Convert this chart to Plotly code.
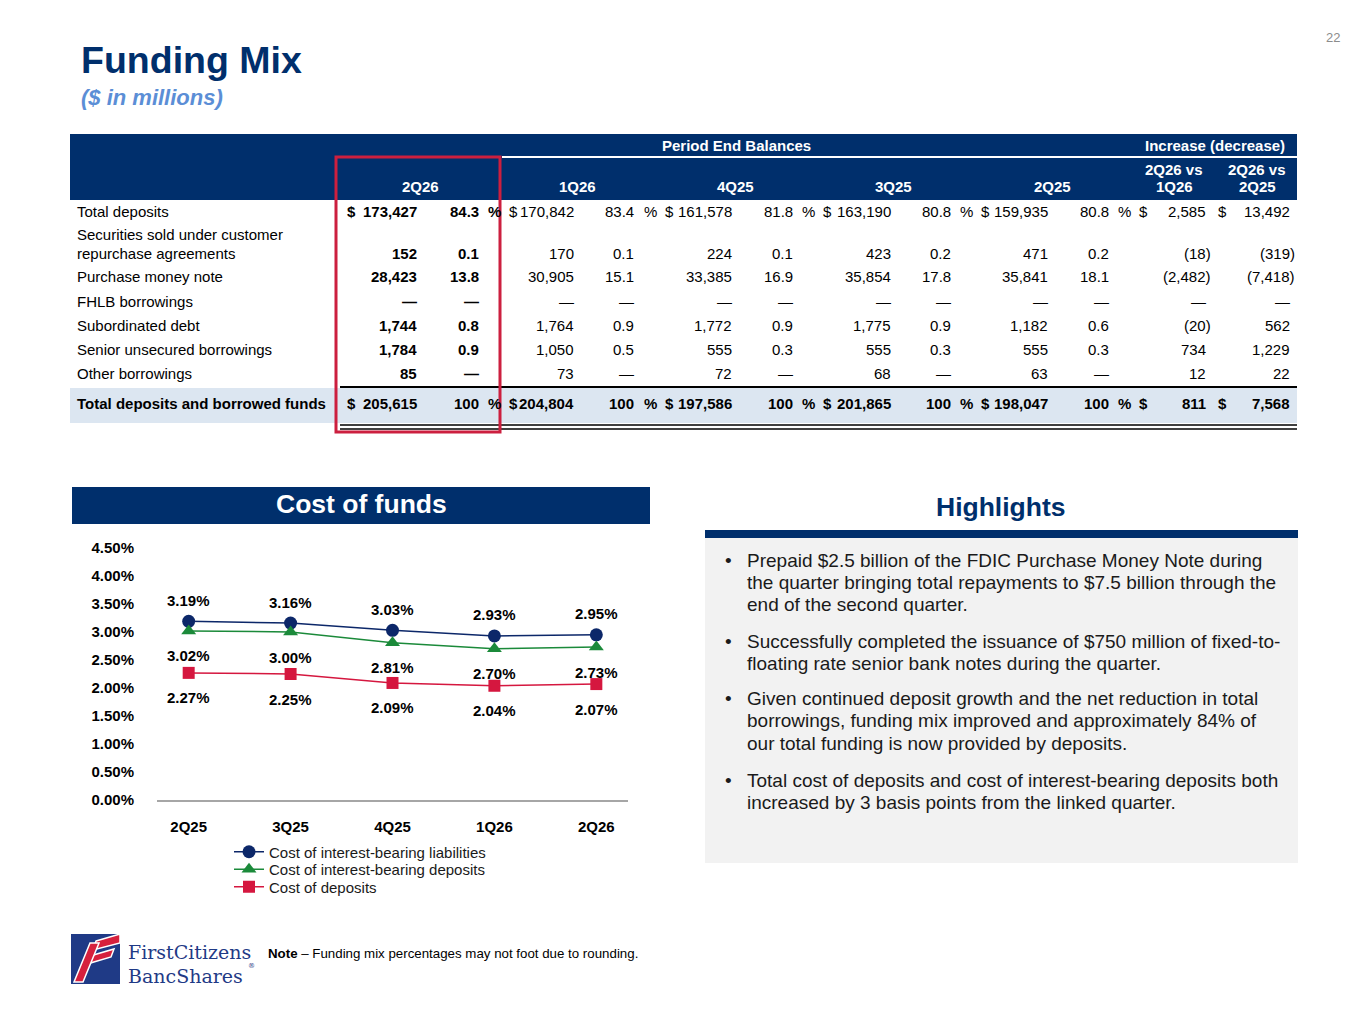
import plotly.graph_objects as go

# page is drawn with the browser's 8px body margin, so the figure is a bit
# smaller than the window and all positions are measured in window pixels
OFF = 8
W, H = 1365 - 2 * OFF, 1024 - 2 * OFF
SANS = "Liberation Sans, Arial, Helvetica, sans-serif"
SERIF = "DejaVu Serif, Liberation Serif, serif"
NAVY = "#002F6C"

# Table data ($ in millions)
row_labels = [
    "Total deposits",
    "Securities sold under customer<br>repurchase agreements",
    "Purchase money note",
    "FHLB borrowings",
    "Subordinated debt",
    "Senior unsecured borrowings",
    "Other borrowings",
    "Total deposits and borrowed funds",
]
periods = ["2Q26", "1Q26", "4Q25", "3Q25", "2Q25"]
bal_2q26 = [173427, 152, 28423, None, 1744, 1784, 85, 205615]
pct_2q26 = [84.3, 0.1, 13.8, None, 0.8, 0.9, None, 100]
bal_1q26 = [170842, 170, 30905, None, 1764, 1050, 73, 204804]
pct_1q26 = [83.4, 0.1, 15.1, None, 0.9, 0.5, None, 100]
bal_4q25 = [161578, 224, 33385, None, 1772, 555, 72, 197586]
pct_4q25 = [81.8, 0.1, 16.9, None, 0.9, 0.3, None, 100]
bal_3q25 = [163190, 423, 35854, None, 1775, 555, 68, 201865]
pct_3q25 = [80.8, 0.2, 17.8, None, 0.9, 0.3, None, 100]
bal_2q25 = [159935, 471, 35841, None, 1182, 555, 63, 198047]
pct_2q25 = [80.8, 0.2, 18.1, None, 0.6, 0.3, None, 100]
chg_vs_1q26 = [2585, -18, -2482, None, -20, 734, 12, 811]
chg_vs_2q25 = [13492, -319, -7418, None, 562, 1229, 22, 7568]
change_headers = ["2Q26 vs<br>1Q26", "2Q26 vs<br>2Q25"]

# Cost of funds chart data (%)
quarters = ["2Q25", "3Q25", "4Q25", "1Q26", "2Q26"]
cost_ib_liabilities = [3.19, 3.16, 3.03, 2.93, 2.95]
cost_ib_deposits = [3.02, 3.00, 2.81, 2.70, 2.73]
cost_deposits = [2.27, 2.25, 2.09, 2.04, 2.07]
y_ticks = [0, 0.5, 1, 1.5, 2, 2.5, 3, 3.5, 4, 4.5]

highlights = [
    ["Prepaid $2.5 billion of the FDIC Purchase Money Note during",
     "the quarter bringing total repayments to $7.5 billion through the",
     "end of the second quarter."],
    ["Successfully completed the issuance of $750 million of fixed-to-",
     "floating rate senior bank notes during the quarter."],
    ["Given continued deposit growth and the net reduction in total",
     "borrowings, funding mix improved and approximately 84% of",
     "our total funding is now provided by deposits."],
    ["Total cost of deposits and cost of interest-bearing deposits both",
     "increased by 3 basis points from the linked quarter."],
]


def px(x):
    return (x - OFF) / W


def py(y):
    return 1 - (y - OFF) / H


annotations = []
shapes = []


def text(x, y, s, size=15, color="#000000", bold=False, anchor="left", family=SANS,
         italic=False, vanchor="middle"):
    if bold:
        s = "<b>" + s + "</b>"
    if italic:
        s = "<i>" + s + "</i>"
    annotations.append(dict(x=px(x), y=py(y), xref="paper", yref="paper", text=s,
                            showarrow=False, xanchor=anchor, yanchor=vanchor,
                            font=dict(size=size, color=color, family=family)))


def rect(x0, y0, x1, y1, fill):
    shapes.append(dict(type="rect", xref="paper", yref="paper", x0=px(x0), x1=px(x1),
                       y0=py(y0), y1=py(y1), fillcolor=fill, layer="below",
                       line=dict(color=fill, width=0)))


def hline(x0, x1, y, color, width):
    shapes.append(dict(type="line", xref="paper", yref="paper", x0=px(x0), x1=px(x1),
                       y0=py(y), y1=py(y), line=dict(color=color, width=width)))


def poly(points, fill, line="white", width=1):
    d = "M " + " L ".join(f"{px(a):.5f},{py(b):.5f}" for a, b in points) + " Z"
    shapes.append(dict(type="path", xref="paper", yref="paper", path=d,
                       fillcolor=fill, line=dict(color=line, width=width)))


def fmt_amt(v):
    return "\u2014" if v is None else f"{v:,}"


def fmt_pct(v):
    if v is None:
        return "\u2014"
    return "100" if v == 100 else f"{v:.1f}"


def fmt_chg(v):
    if v is None:
        return "\u2014"
    return f"({-v:,})" if v < 0 else f"{v:,}"


# ---- title
text(79, 60, "Funding Mix", size=37.5, color=NAVY, bold=True)
text(79, 97, "($ in millions)", size=22, color="#5B8ED6", bold=True, italic=True)
text(1342, 37, "22", size=13, color="#8C8C8C", anchor="right")

# ---- table
rect(70, 134, 1297, 200, NAVY)
hline(502, 1297, 157, "white", 2)
text(737, 146, "Period End Balances", color="white", bold=True, anchor="center")
text(1287, 146, "Increase (decrease)", color="white", bold=True, anchor="right")

row_y = [212, 253, 277, 301, 325, 349, 373, 404]
last = len(row_labels) - 1
rect(70, 388, 1297, 423, "#DCE6F1")
hline(340, 1297, 387, "#000000", 2)
hline(340, 1297, 425, "#000000", 1.5)
hline(340, 1297, 429, "#000000", 1.5)

for i, lab in enumerate(row_labels):
    lines = lab.split("<br>")
    for k, ln in enumerate(lines):
        text(75, row_y[i] - 18 * (len(lines) - 1 - k), ln, bold=(i == last))

balances = [bal_2q26, bal_1q26, bal_4q25, bal_3q25, bal_2q25]
pcts = [pct_2q26, pct_1q26, pct_4q25, pct_3q25, pct_2q25]
# column geometry: header centre, $ left, amount right, pct right, % sign left
col_geo = [
    (420, 345, 419, 481, 486),
    (577, 507, 576, 636, 642),
    (735, 663, 734, 795, 800),
    (893, 821, 893, 953, 958),
    (1052, 979, 1050, 1111, 1116),
]
for c, per in enumerate(periods):
    hx, dx, ax, pxr, sx = col_geo[c]
    text(hx, 186, per, color="white", bold=True, anchor="center")
    for i in range(len(row_labels)):
        b = (c == 0) or (i == last)
        if i in (0, last):
            text(dx, row_y[i], "$", bold=b)
            text(sx, row_y[i], "%", bold=b)
        text(ax, row_y[i], fmt_amt(balances[c][i]), bold=b, anchor="right")
        text(pxr, row_y[i], fmt_pct(pcts[c][i]), bold=b, anchor="right")

changes = [chg_vs_1q26, chg_vs_2q25]
chg_geo = [(1174, 1137, 1208), (1257, 1216, 1292)]
for c, hdr in enumerate(change_headers):
    hx, dx, ax = chg_geo[c]
    h1, h2 = hdr.split("<br>")
    text(hx, 169, h1, color="white", bold=True, anchor="center")
    text(hx, 186, h2, color="white", bold=True, anchor="center")
    for i in range(len(row_labels)):
        b = (i == last)
        if i in (0, last):
            text(dx, row_y[i], "$", bold=b)
        s = fmt_chg(changes[c][i])
        text(ax + (5 if s.startswith("(") else 0), row_y[i], s, bold=b, anchor="right")

# red highlight box around current quarter
shapes.append(dict(type="rect", xref="paper", yref="paper", x0=px(336), x1=px(500),
                   y0=py(157), y1=py(432), line=dict(color="#CC1F3F", width=3)))

# ---- cost of funds panel
rect(72, 487, 650, 524, NAVY)
text(361, 504, "Cost of funds", size=26.5, color="white", bold=True, anchor="center")

# ---- highlights panel
text(1001, 507, "Highlights", size=26.5, color=NAVY, bold=True, anchor="center")
rect(705, 530, 1298, 538, NAVY)
rect(705, 538, 1298, 863, "#F2F2F2")
line_y = [[560, 582, 604], [641, 663], [698, 720, 743], [780, 802]]
for k, para in enumerate(highlights):
    text(723, line_y[k][0], "\u2022", size=19, color="#1A1A1A")
    for j, ln in enumerate(para):
        text(745, line_y[k][j], ln, size=19, color="#1A1A1A")

# ---- footer
text(266, 953, "<b>Note</b> \u2013 Funding mix percentages may not foot due to rounding.", size=13.3)
rect(71, 934, 120, 984, "#1F3A86")
poly([(96, 941), (120, 934), (120, 943), (93, 950)], "#D6203D", width=1.5)
poly([(90, 956), (114, 949), (111, 957), (87, 964)], "#D6203D", width=1.5)
poly([(74, 982), (83, 982), (99, 943), (90, 943)], "#D6203D", width=1.5)
text(126, 965, "FirstCitizens", size=19, color="#1F3A86", family=SERIF, vanchor="bottom")
text(126, 963, "BancShares", size=19, color="#1F3A86", family=SERIF, vanchor="top")
text(246, 966, "\u00ae", size=7, color="#1F3A86", family=SERIF)

fig = go.Figure()
# one small legend per series so the rows sit as tightly as on the slide
series = [
    ("Cost of interest-bearing liabilities", cost_ib_liabilities, "#0C2769", "circle", 13, 21, "legend", 852),
    ("Cost of interest-bearing deposits", cost_ib_deposits, "#1B8A3A", "triangle-up", 13, -25, "legend2", 869.5),
    ("Cost of deposits", cost_deposits, "#D5173F", "square", 12, -25, "legend3", 887),
]
legends = {}
for name, vals, col, sym, size, shift, leg, ly in series:
    fig.add_trace(go.Scatter(x=quarters, y=vals, name=name, mode="lines+markers",
                             legend=leg,
                             line=dict(color=col, width=1.5),
                             marker=dict(symbol=sym, size=size, color=col)))
    legends[leg] = dict(x=px(229), y=py(ly), xanchor="left", yanchor="middle",
                        bgcolor="rgba(0,0,0,0)", borderwidth=0,
                        font=dict(size=15, color="#1A1A1A"))
    for q, v in zip(quarters, vals):
        annotations.append(dict(x=q, y=v, xref="x", yref="y", text=f"<b>{v:.2f}%</b>",
                                showarrow=False, yshift=shift,
                                font=dict(size=15, color="#000000", family=SANS)))

fig.update_layout(
    width=W, height=H,
    margin=dict(l=0, r=0, t=0, b=0, autoexpand=False),
    paper_bgcolor="white", plot_bgcolor="white",
    font=dict(family=SANS, color="#000000"),
    showlegend=True,
    xaxis=dict(domain=[px(157), px(628)], type="category", showgrid=False,
               showline=True, linecolor="#A6A6A6", linewidth=1.5, ticks="",
               ticklabelstandoff=12, zeroline=False, automargin=False,
               tickfont=dict(size=15, weight="bold", color="#000000")),
    yaxis=dict(domain=[py(800), py(548)], range=[0, 4.5], showgrid=False,
               zeroline=False, showline=False, automargin=False,
               tickvals=y_ticks, ticktext=[f"{v:.2f}%" for v in y_ticks],
               ticklabelstandoff=22,
               tickfont=dict(size=15, weight="bold", color="#000000")),
    annotations=annotations,
    shapes=shapes,
    **legends,
)

fig.write_html("out.html")
